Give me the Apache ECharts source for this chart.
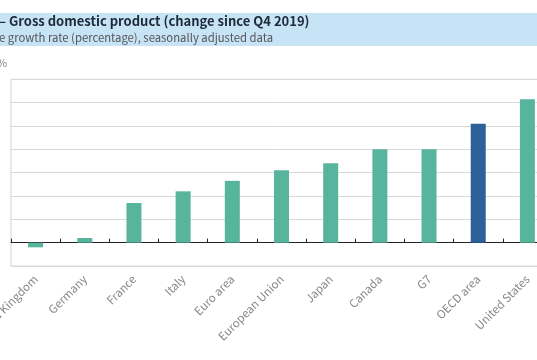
<!DOCTYPE html>
<html><head><meta charset="utf-8">
<script src="https://cdn.jsdelivr.net/npm/echarts@6/dist/echarts.min.js"></script>
<style>html,body{margin:0;padding:0;background:#fff}#c{width:537px;height:360px}</style>
</head><body><div id="c"></div>
<script>
const categories = ["United Kingdom","Germany","France","Italy","Euro area","European Union","Japan","Canada","G7","OECD area","United States"];
const values = [-0.2, 0.2, 1.7, 2.2, 2.65, 3.1, 3.4, 4.0, 4.0, 5.1, 6.15];
const highlight = "OECD area";
const yTicks = {min: -1, max: 7, interval: 1};

const font = "'Noto Sans CJK JP','Noto Sans',sans-serif";
const chart = echarts.init(document.getElementById('c'), null, {renderer: 'canvas'});
chart.setOption({
  animation: false,
  graphic: [
    {type: 'rect', shape: {x: 0, y: 13, width: 537, height: 33}, style: {fill: '#c7e3f6'}, silent: true},
    {type: 'text', x: -1, y: 21, style: {text: '– Gross domestic product (change since Q4 2019)', font: 'bold 13px ' + font, fill: '#1e2a38', verticalAlign: 'middle'}},
    {type: 'text', x: -1, y: 37.5, style: {text: 'e growth rate (percentage), seasonally adjusted data', font: '11.3px ' + font, fill: '#555', verticalAlign: 'middle'}},
    {type: 'text', x: -3, y: 62.5, style: {text: '%', font: '11px ' + font, fill: '#888', verticalAlign: 'middle'}}
  ],
  grid: {left: 11, right: -15, top: 79.3, bottom: 94, outerBoundsMode: 'none', containLabel: false, show: true, borderColor: '#d4d4d4', borderWidth: 1},
  xAxis: {
    type: 'category', data: categories,
    axisLine: {onZero: true, lineStyle: {color: '#222', width: 1}},
    axisTick: {show: true, inside: true, length: 4, lineStyle: {color: '#222'}},
    axisLabel: {rotate: 45, margin: 11, color: '#888', fontSize: 11.5, fontFamily: font, interval: 0}
  },
  yAxis: {
    type: 'value', min: yTicks.min, max: yTicks.max, interval: yTicks.interval,
    axisLabel: {show: false}, axisLine: {show: false}, axisTick: {show: false},
    splitLine: {lineStyle: {color: '#d9d9d9'}}
  },
  series: [{
    type: 'bar', barWidth: 15,
    data: values.map((v, i) => ({value: v, itemStyle: {color: categories[i] === highlight ? '#2d5f98' : '#58b59d'}}))
  }]
});
</script></body></html>
